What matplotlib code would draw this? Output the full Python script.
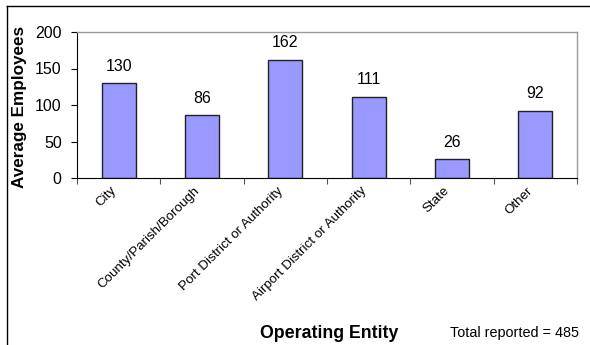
import matplotlib.pyplot as plt
from matplotlib.lines import Line2D

entities = ["City", "County/Parish/Borough", "Port District or Authority",
            "Airport District or Authority", "State", "Other"]
avg_employees = [130, 86, 162, 111, 26, 92]
total_reported = 485

plt.rcParams['font.family'] = ['Liberation Sans', 'DejaVu Sans']

fig = plt.figure(figsize=(5.9, 3.45), dpi=100)
ax = fig.add_axes([77 / 590, 1 - 178 / 345, 500 / 590, 146 / 345])

x = list(range(len(entities)))
bars = ax.bar(x, avg_employees, width=0.41, color="#9999FF",
              edgecolor="#222222", linewidth=1.0, zorder=2)
for xi, v in zip(x, avg_employees):
    ax.text(xi, v + 13, str(v), ha="center", va="bottom", fontsize=11.5)

ax.set_xlim(-0.5, len(entities) - 0.5)
ax.set_ylim(0, 200)
ax.set_yticks([0, 50, 100, 150, 200])
ax.tick_params(axis="y", labelsize=11.5, length=4, width=0.8, pad=7)

# ticks sit on the category boundaries, labels under bar centres
ax.set_xticks([i - 0.5 for i in range(len(entities) + 1)])
ax.set_xticklabels([])
ax.tick_params(axis="x", length=4, width=0.8, direction="out", color="#555555")
for xi, name in zip(x, entities):
    ax.text(xi - 0.1, -9, name, rotation=45, ha="right", va="top",
            rotation_mode="anchor", fontsize=9.6, transform=ax.transData)

for side in ["top", "right"]:
    ax.spines[side].set_color("#999999")
    ax.spines[side].set_linewidth(1.0)
for side in ["left", "bottom"]:
    ax.spines[side].set_color("black")
    ax.spines[side].set_linewidth(0.8)

fig.text(20 / 590, 1 - 107 / 345, "Average Employees", rotation=90,
         ha="center", va="center", fontsize=12.3, fontweight="bold")
fig.text(329 / 590, 1 - 333 / 345, "Operating Entity", ha="center",
         va="center", fontsize=12.8, fontweight="bold")
fig.text(515 / 590, 1 - 333 / 345, f"Total reported = {total_reported}",
         ha="center", va="center", fontsize=10.4)

# chart frame: left and top edges only
fig.add_artist(Line2D([7 / 590, 7 / 590], [0, 1 - 6 / 345],
                      transform=fig.transFigure, color="black", linewidth=1.0))
fig.add_artist(Line2D([7 / 590, 1], [1 - 6 / 345, 1 - 6 / 345],
                      transform=fig.transFigure, color="black", linewidth=1.0))

fig.savefig("out.png", dpi=100)
